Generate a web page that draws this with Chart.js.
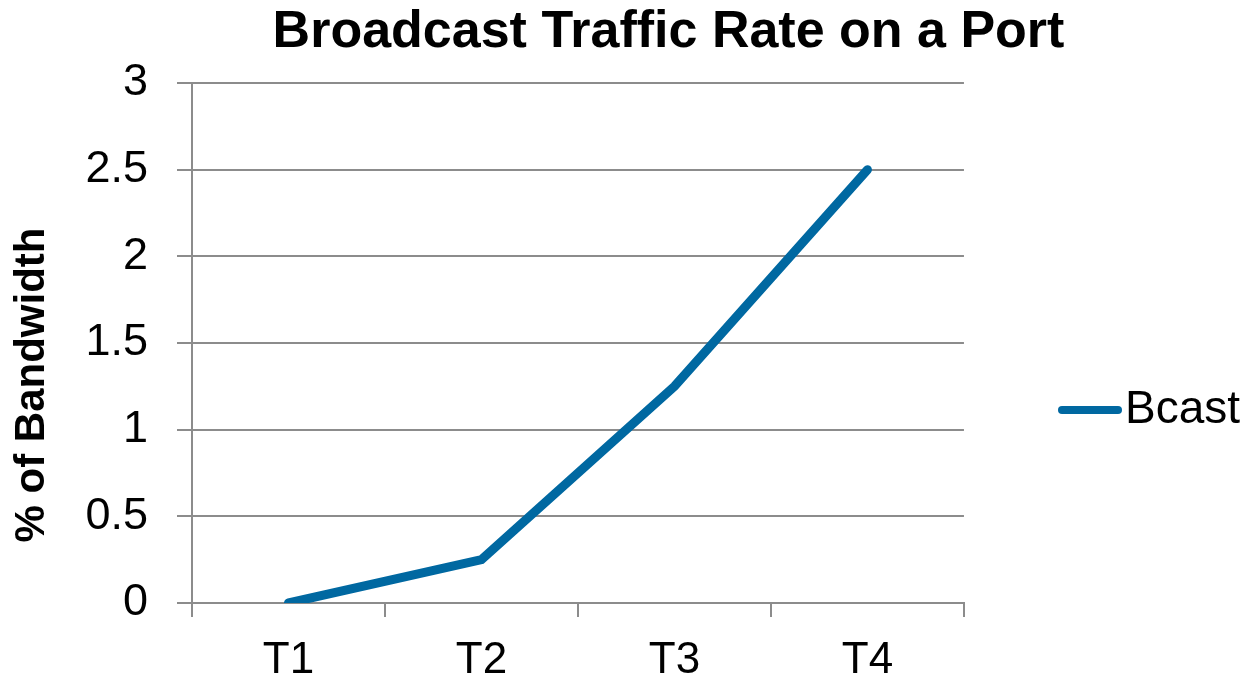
<!DOCTYPE html>
<html>
<head>
<meta charset="utf-8">
<script src="https://cdn.jsdelivr.net/npm/chart.js@4/dist/chart.umd.min.js"></script>
<style>
html,body{margin:0;padding:0;background:#fff;}
#wrap{width:1244px;height:680px;}
</style>
</head>
<body>
<div id="wrap"><canvas id="c" width="1244" height="680"></canvas></div>
<script>
const categories = ['T1', 'T2', 'T3', 'T4'];
const bcastValues = [0, 0.25, 1.25, 2.5];
const seriesName = 'Bcast';
const chartTitle = 'Broadcast Traffic Rate on a Port';
const yAxisTitle = '% of Bandwidth';
const yTickValues = [0, 0.5, 1, 1.5, 2, 2.5, 3];
const yTickLabels = ['0', '0.5', '1', '1.5', '2', '2.5', '3'];

const FONT = "'Liberation Sans', Arial, sans-serif";
const GRID = '#8c8c8c';
const BLUE = '#0068a1';

// legend marker: a thick round-capped line
const marker = document.createElement('canvas');
marker.width = 64; marker.height = 12;
(function () {
  const m = marker.getContext('2d');
  m.strokeStyle = BLUE; m.lineWidth = 8; m.lineCap = 'round';
  m.beginPath(); m.moveTo(4, 6); m.lineTo(60, 6); m.stroke();
})();

const yTitlePlugin = {
  id: 'yTitle',
  afterDraw(chart) {
    const ctx = chart.ctx;
    ctx.save();
    ctx.translate(32, 385);
    ctx.rotate(-Math.PI / 2);
    ctx.font = 'bold 42px ' + FONT;
    ctx.fillStyle = '#000';
    ctx.textAlign = 'center';
    ctx.textBaseline = 'middle';
    ctx.fillText(yAxisTitle, 0, 0);
    ctx.restore();
  }
};

new Chart(document.getElementById('c'), {
  type: 'line',
  data: {
    labels: categories,
    datasets: [{
      label: seriesName,
      data: bcastValues,
      borderColor: BLUE,
      backgroundColor: BLUE,
      borderWidth: 9,
      borderCapStyle: 'round',
      borderJoinStyle: 'miter',
      pointRadius: 0,
      pointHoverRadius: 0,
      tension: 0,
      fill: false
    }]
  },
  options: {
    responsive: false,
    animation: false,
    layout: { padding: { left: 87, right: -6, top: 0, bottom: -140 } },
    plugins: {
      title: {
        display: true,
        text: chartTitle,
        color: '#000',
        font: { family: FONT, size: 52, weight: 'bold', lineHeight: 1.2 },
        padding: { top: 1, bottom: 19.6 }
      },
      legend: {
        position: 'right',
        labels: {
          usePointStyle: true,
          pointStyle: marker,
          pointStyleWidth: 24,
          padding: 114,
          color: '#000',
          font: { family: FONT, size: 46 }
        }
      },
      tooltip: { enabled: false }
    },
    scales: {
      x: {
        offset: true,
        afterFit(scale) { scale.height = 217; },
        grid: {
          display: true,
          offset: true,
          drawOnChartArea: false,
          drawTicks: true,
          tickLength: 14,
          color: GRID,
          lineWidth: 2
        },
        border: { display: true, color: GRID, width: 2 },
        ticks: {
          color: '#000',
          padding: 21.5,
          font: { family: FONT, size: 44, lineHeight: 1.0 }
        }
      },
      y: {
        min: 0,
        max: 3,
        afterBuildTicks(scale) { scale.ticks = yTickValues.map(v => ({ value: v })); },
        afterFit(scale) { scale.width = 105; },
        grid: {
          color: GRID,
          lineWidth: 2,
          drawTicks: true,
          tickLength: 15
        },
        border: { display: true, color: GRID, width: 2 },
        ticks: {
          color: '#000',
          padding: 29,
          font: { family: FONT, size: 45 },
          callback(value, index) { return yTickLabels[index]; }
        }
      }
    }
  },
  plugins: [yTitlePlugin]
});
</script>
</body>
</html>
